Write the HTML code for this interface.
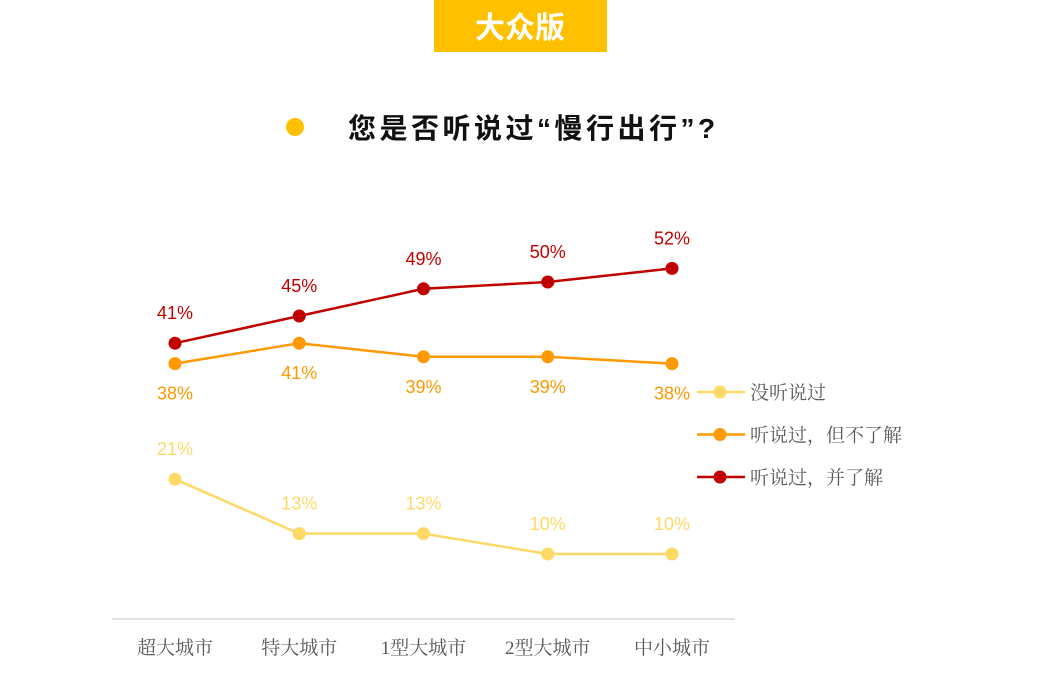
<!DOCTYPE html>
<html><head><meta charset="utf-8"><style>
body{margin:0;background:#fff;}
svg{display:block;font-family:"Liberation Sans","Noto Sans CJK SC",sans-serif;}
</style></head><body>
<svg id="chart" width="1051" height="697" viewBox="0 0 1051 697">
<rect x="434" y="0" width="173" height="52" fill="#FFC000"/>
<text x="520" y="38" text-anchor="middle" font-size="30" font-weight="bold" fill="#fff">大众版</text>
<circle cx="295" cy="127" r="9" fill="#FFC000"/>
<text x="348" y="138" font-size="28" font-weight="bold" fill="#111" letter-spacing="3.5">您是否听说过“慢行出行”?</text>
<line x1="112" y1="619" x2="735" y2="619" stroke="#d9d9d9" stroke-width="1.5"/>
<g id="plot"></g>
</svg>
<script>
const categories=["超大城市","特大城市","1型大城市","2型大城市","中小城市"];
const seriesNames=["没听说过","听说过，但不了解","听说过，并了解"];
const notHeard=[21,13,13,10,10];
const heardNotKnow=[38,41,39,39,38];
const heardKnow=[41,45,49,50,52];
const colors=["#FFD966","#FF9900","#C00000"];
const xPos=i=>175+i*124.25;
const yPos=v=>622-v*6.8;
const svg=document.getElementById('plot');
const NS="http://www.w3.org/2000/svg";
function mk(t,a){const e=document.createElementNS(NS,t);for(const k in a)e.setAttribute(k,a[k]);svg.appendChild(e);return e;}
categories.forEach((c,i)=>{
 const t=mk('text',{x:xPos(i),y:654,'text-anchor':'middle','font-size':19,fill:'#595959','font-family':'"Liberation Serif","Noto Serif CJK SC",serif'});
 
 
 t.textContent=c;
});
const all=[notHeard,heardNotKnow,heardKnow];
const offs=[-24,36,-24];
all.forEach((vals,s)=>{
 const pts=vals.map((v,i)=>xPos(i)+','+yPos(v)).join(' ');
 const pl=mk('polyline',{points:pts,fill:'none',stroke:colors[s],'stroke-width':2.5});
 
 
 vals.forEach((v,i)=>{
  const c=mk('circle',{cx:xPos(i),cy:yPos(v),r:6.5,fill:colors[s]});
  
  
  const t=mk('text',{x:xPos(i),y:yPos(v)+offs[s],'text-anchor':'middle','font-size':18,fill:colors[s]});
  
  
  t.textContent=v+'%';
 });
 const ly=392+s*42.5;
 const l=mk('line',{x1:697,y1:ly,x2:745,y2:ly,stroke:colors[s],'stroke-width':2.5});
 
 
 const lc=mk('circle',{cx:720,cy:ly,r:6.5,fill:colors[s]});
 
 
 const lt=mk('text',{x:750,y:ly+7,'font-size':19,fill:'#595959','font-family':'"Liberation Serif","Noto Serif CJK SC",serif'});
 
 
 lt.textContent=seriesNames[s];
});
</script>
</body></html>
